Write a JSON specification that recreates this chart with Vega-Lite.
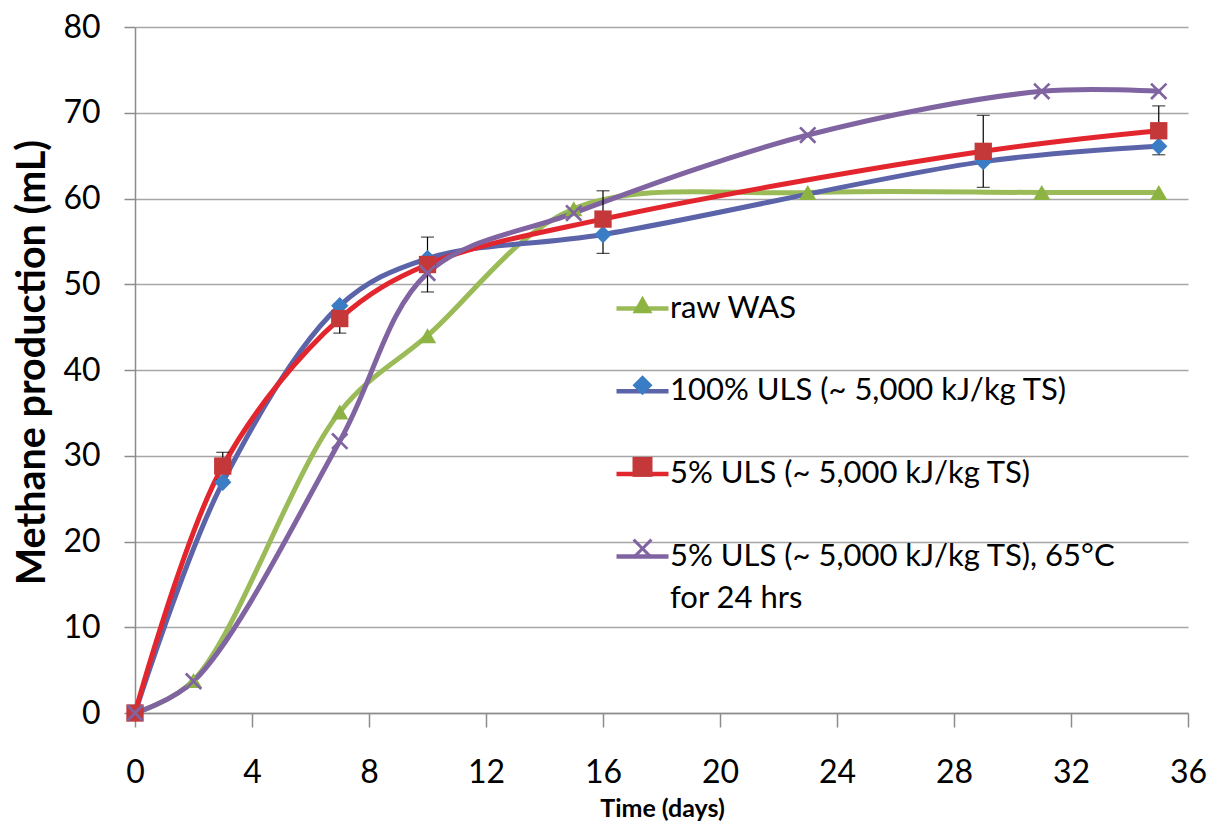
{
  "$schema": "https://vega.github.io/schema/vega-lite/v6.json",
  "width": 1053,
  "height": 686,
  "autosize": {"type": "none"},
  "padding": {"left": 135, "top": 27, "right": 28, "bottom": 111},
  "background": "white",
  "config": {
    "font": "Lato",
    "view": {"stroke": null},
    "axis": {
      "labelFont": "Lato",
      "titleFont": "Lato",
      "labelColor": "black",
      "titleColor": "black",
      "domainColor": "#8c8c8c",
      "tickColor": "#8c8c8c",
      "gridColor": "#a6a6a6",
      "domainWidth": 1.5,
      "tickWidth": 1.5,
      "gridWidth": 1.5,
      "labelFlush": false
    }
  },
  "datasets": {
    "curves": [
      {"series": "raw WAS", "t": 0, "v": 0},
      {"series": "raw WAS", "t": 2, "v": 3.8},
      {"series": "raw WAS", "t": 7, "v": 35.1},
      {"series": "raw WAS", "t": 10, "v": 44.0},
      {"series": "raw WAS", "t": 15, "v": 58.8},
      {"series": "raw WAS", "t": 23, "v": 60.7},
      {"series": "raw WAS", "t": 31, "v": 60.7},
      {"series": "raw WAS", "t": 35, "v": 60.7},
      {"series": "100% ULS (~ 5,000 kJ/kg TS)", "t": 0, "v": 0},
      {"series": "100% ULS (~ 5,000 kJ/kg TS)", "t": 3, "v": 26.9},
      {"series": "100% ULS (~ 5,000 kJ/kg TS)", "t": 7, "v": 47.5},
      {"series": "100% ULS (~ 5,000 kJ/kg TS)", "t": 10, "v": 53.0},
      {"series": "100% ULS (~ 5,000 kJ/kg TS)", "t": 16, "v": 55.8},
      {"series": "100% ULS (~ 5,000 kJ/kg TS)", "t": 29, "v": 64.3},
      {"series": "100% ULS (~ 5,000 kJ/kg TS)", "t": 35, "v": 66.1},
      {"series": "5% ULS (~ 5,000 kJ/kg TS)", "t": 0, "v": 0},
      {"series": "5% ULS (~ 5,000 kJ/kg TS)", "t": 3, "v": 28.8},
      {"series": "5% ULS (~ 5,000 kJ/kg TS)", "t": 7, "v": 46.0},
      {"series": "5% ULS (~ 5,000 kJ/kg TS)", "t": 10, "v": 52.3},
      {"series": "5% ULS (~ 5,000 kJ/kg TS)", "t": 16, "v": 57.6},
      {"series": "5% ULS (~ 5,000 kJ/kg TS)", "t": 29, "v": 65.5},
      {"series": "5% ULS (~ 5,000 kJ/kg TS)", "t": 35, "v": 67.9},
      {"series": "5% ULS (~ 5,000 kJ/kg TS), 65°C for 24 hrs", "t": 0, "v": 0},
      {"series": "5% ULS (~ 5,000 kJ/kg TS), 65°C for 24 hrs", "t": 2, "v": 3.7},
      {"series": "5% ULS (~ 5,000 kJ/kg TS), 65°C for 24 hrs", "t": 7, "v": 31.7},
      {"series": "5% ULS (~ 5,000 kJ/kg TS), 65°C for 24 hrs", "t": 10, "v": 51.3},
      {"series": "5% ULS (~ 5,000 kJ/kg TS), 65°C for 24 hrs", "t": 15, "v": 58.3},
      {"series": "5% ULS (~ 5,000 kJ/kg TS), 65°C for 24 hrs", "t": 23, "v": 67.4},
      {"series": "5% ULS (~ 5,000 kJ/kg TS), 65°C for 24 hrs", "t": 31, "v": 72.5},
      {"series": "5% ULS (~ 5,000 kJ/kg TS), 65°C for 24 hrs", "t": 35, "v": 72.5}
    ],
    "err": [
      {"t": 3, "lo": 27.2, "hi": 30.4},
      {"t": 7, "lo": 44.3, "hi": 47.7},
      {"t": 10, "lo": 49.1, "hi": 55.5},
      {"t": 16, "lo": 53.6, "hi": 60.9},
      {"t": 29, "lo": 61.3, "hi": 69.7},
      {"t": 35, "lo": 65.1, "hi": 70.8}
    ]
  },
  "layer": [
    {
      "data": {"name": "curves"},
      "mark": {"type": "line", "interpolate": "catmull-rom", "strokeWidth": 5, "strokeCap": "round"},
      "encoding": {
        "x": {
          "field": "t", "type": "quantitative",
          "scale": {"domain": [0, 36], "nice": false, "zero": false},
          "axis": {
            "values": [0, 4, 8, 12, 16, 20, 24, 28, 32, 36],
            "grid": false, "tickSize": 14, "labelFontSize": 32, "labelPadding": 30,
            "title": "Time (days)", "titleFontSize": 25, "titleFontWeight": "bold",
            "titleX": 527, "titleY": 95, "titleBaseline": "middle", "titleAlign": "center"
          }
        },
        "y": {
          "field": "v", "type": "quantitative",
          "scale": {"domain": [0, 80], "nice": false},
          "axis": {
            "values": [0, 10, 20, 30, 40, 50, 60, 70, 80],
            "grid": true, "tickSize": 11, "labelFontSize": 32, "labelPadding": 24,
            "title": "Methane production (mL)", "titleFontSize": 39.5, "titleFontWeight": "bold",
            "titleX": -103, "titleY": 335, "titleAngle": -90, "titleBaseline": "middle", "titleAlign": "center"
          }
        },
        "stroke": {
          "field": "series", "type": "nominal",
          "scale": {
            "domain": ["raw WAS", "100% ULS (~ 5,000 kJ/kg TS)", "5% ULS (~ 5,000 kJ/kg TS)", "5% ULS (~ 5,000 kJ/kg TS), 65°C for 24 hrs"],
            "range": ["#9BBB59", "#5B63A9", "#E3262E", "#8064A2"]
          },
          "legend": {
            "orient": "none", "legendX": 492, "legendY": 266, "title": null, "padding": 0,
            "symbolType": "M-2.6,0H2.6", "symbolSize": 400, "symbolStrokeWidth": 4.5,
            "labelFont": "Lato", "labelFontSize": 31, "labelColor": "black", "labelLimit": 800,
            "labelOffset": 12, "rowPadding": 50.7,
            "labelExpr": "indexof(datum.label, '65') > 0 ? ['5% ULS (~ 5,000 kJ/kg TS), 65°C', 'for 24 hrs'] : datum.label",
            "encode": {"labels": {"update": {"lineHeight": {"value": 42}}}}
          }
        }
      }
    },
    {
      "data": {"name": "err"},
      "mark": {"type": "errorbar", "ticks": true, "color": "black", "thickness": 1.2, "size": 13},
      "encoding": {
        "x": {"field": "t", "type": "quantitative", "title": "Time (days)"},
        "y": {"field": "lo", "type": "quantitative", "title": "Methane production (mL)"},
        "y2": {"field": "hi"}
      }
    },
    {
      "data": {"name": "curves"},
      "mark": {"type": "point", "filled": true, "size": 300, "opacity": 1, "strokeWidth": 0},
      "encoding": {
        "x": {"field": "t", "type": "quantitative", "title": "Time (days)"},
        "y": {"field": "v", "type": "quantitative", "title": "Methane production (mL)"},
        "fill": {
          "field": "series", "type": "nominal", "sort": null,
          "scale": {"range": ["#8DB443", "#3B7DC5", "#C4383A", "#8064A2"]},
          "legend": {
            "orient": "none", "legendX": 492, "legendY": 262, "title": null, "padding": 0,
            "symbolSize": 400, "symbolStrokeWidth": 4.5, "symbolStrokeColor": "transparent", "symbolOpacity": 1,
            "labelFont": "Lato", "labelFontSize": 31, "labelLimit": 800,
            "labelOffset": 12, "rowPadding": 42.7,
            "labelExpr": "''"
          }
        },
        "shape": {
          "field": "series", "type": "nominal", "sort": null,
          "scale": {"range": ["triangle-up", "diamond", "square", "M0,-0.22L0.78,-1L1,-0.78L0.22,0L1,0.78L0.78,1L0,0.22L-0.78,1L-1,0.78L-0.22,0L-1,-0.78L-0.78,-1Z"]},
          "legend": {
            "orient": "none", "legendX": 492, "legendY": 262, "title": null, "padding": 0,
            "symbolSize": 400, "symbolStrokeWidth": 4.5, "symbolStrokeColor": "transparent", "symbolOpacity": 1,
            "labelFont": "Lato", "labelFontSize": 31, "labelLimit": 800,
            "labelOffset": 12, "rowPadding": 42.7,
            "labelExpr": "''"
          }
        }
      }
    }
  ]
}
